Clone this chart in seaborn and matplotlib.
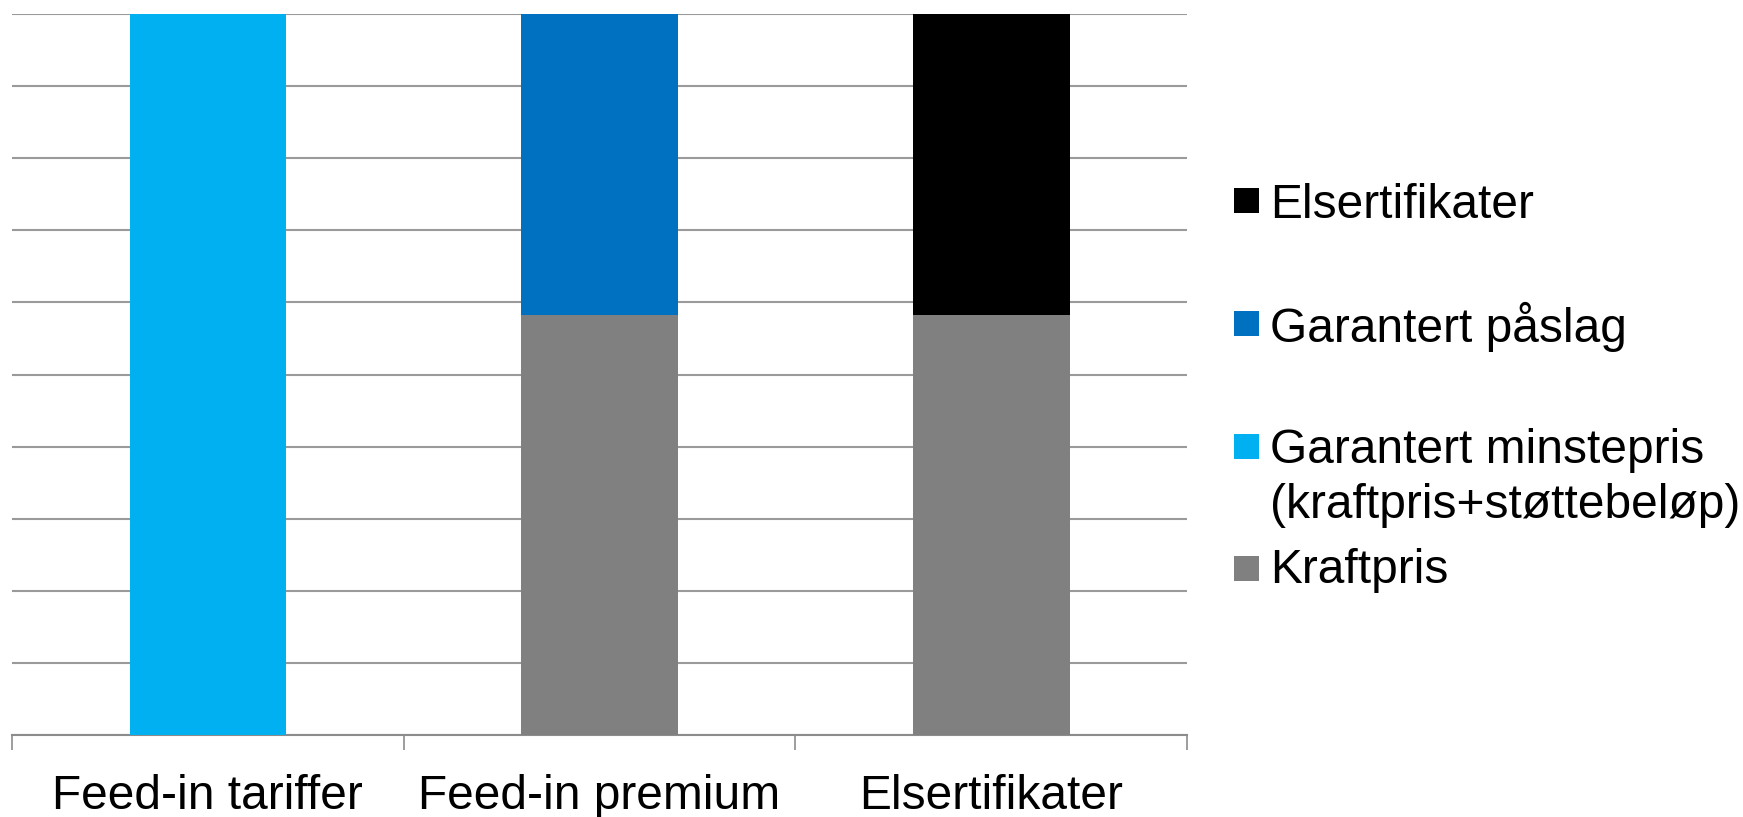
import matplotlib
matplotlib.use("Agg")
import matplotlib.pyplot as plt
from matplotlib.patches import Rectangle
import seaborn as sns
import pandas as pd
import numpy as np

# Support schemes and their price components (relative units, axis runs 0-10)
categories = ["Feed-in tariffer", "Feed-in premium", "Elsertifikater"]
kraftpris = [0.0, 5.83, 5.83]
minstepris = [10.0, 0.0, 0.0]
paaslag = [0.0, 4.17, 0.0]
elsertifikater = [0.0, 0.0, 4.17]

series_names = ["Kraftpris", "Garantert minstepris\n(kraftpris+støttebeløp)",
                "Garantert påslag", "Elsertifikater"]
series_values = [kraftpris, minstepris, paaslag, elsertifikater]
series_colors = ["#808080", "#00B0F0", "#0070C0", "#000000"]

W, H, DPI = 1743, 817, 100
FS = 34.5
sns.set_theme(style="white")
plt.rcParams["font.family"] = ["Liberation Sans", "DejaVu Sans"]

fig = plt.figure(figsize=(W / DPI, H / DPI), dpi=DPI)
ax = fig.add_axes([12 / W, 1 - 735 / H, (1187 - 12) / W, (735 - 14) / H])

# stacked bars, bottom segment first
bottom = np.zeros(len(categories))
for name, vals, col in zip(series_names, series_values, series_colors):
    df = pd.DataFrame({"kategori": categories, "verdi": vals})
    sns.barplot(data=df, x="kategori", y="verdi", order=categories, color=col,
                width=0.4, bottom=bottom.copy(), linewidth=0, saturation=1,
                ax=ax, zorder=3)
    bottom += np.array(vals)

ax.set_xlim(-0.5, len(categories) - 0.5)
ax.set_ylim(0, 10)
ax.set_yticks(np.arange(0, 11, 1))
ax.set_yticklabels([])
ax.tick_params(axis="y", length=0)
ax.yaxis.grid(True, color="#9a9a9a", linewidth=1.5)
ax.set_axisbelow(True)
ax.set_xlabel("")
ax.set_ylabel("")
for s in ["left", "right", "top"]:
    ax.spines[s].set_visible(False)
ax.spines["bottom"].set_color("#8c8c8c")
ax.spines["bottom"].set_linewidth(1.5)

# category labels at bar centres, separators at category edges
ax.set_xticks(range(len(categories)))
ax.set_xticklabels(categories, fontsize=FS, color="black")
ax.tick_params(axis="x", which="major", length=0, pad=28)
ax.set_xticks(np.arange(-0.5, len(categories), 1.0), minor=True)
ax.tick_params(axis="x", which="minor", bottom=True, direction="out",
               length=10.8, width=1.2, color="#8c8c8c")

# legend drawn at the right, top entry first
def fx(px):
    return px / W

def fy(py):
    return 1 - py / H

legend_rows = [
    ("Elsertifikater", "#000000", 188, [218]),
    ("Garantert påslag", "#0070C0", 311, [342]),
    ("Garantert minstepris\n(kraftpris+støttebeløp)", "#00B0F0", 434, [463, 518]),
    ("Kraftpris", "#808080", 556, [583]),
]
for label, col, sq_top, baselines in legend_rows:
    fig.patches.append(Rectangle((fx(1234), fy(sq_top + 25)), 25 / W, 25 / H,
                                 transform=fig.transFigure, facecolor=col,
                                 edgecolor="none"))
    for line, base in zip(label.split("\n"), baselines):
        fig.text(fx(1270), fy(base), line, fontsize=FS, color="black",
                 va="baseline", ha="left")

fig.savefig("out.png", dpi=DPI, facecolor="white")
